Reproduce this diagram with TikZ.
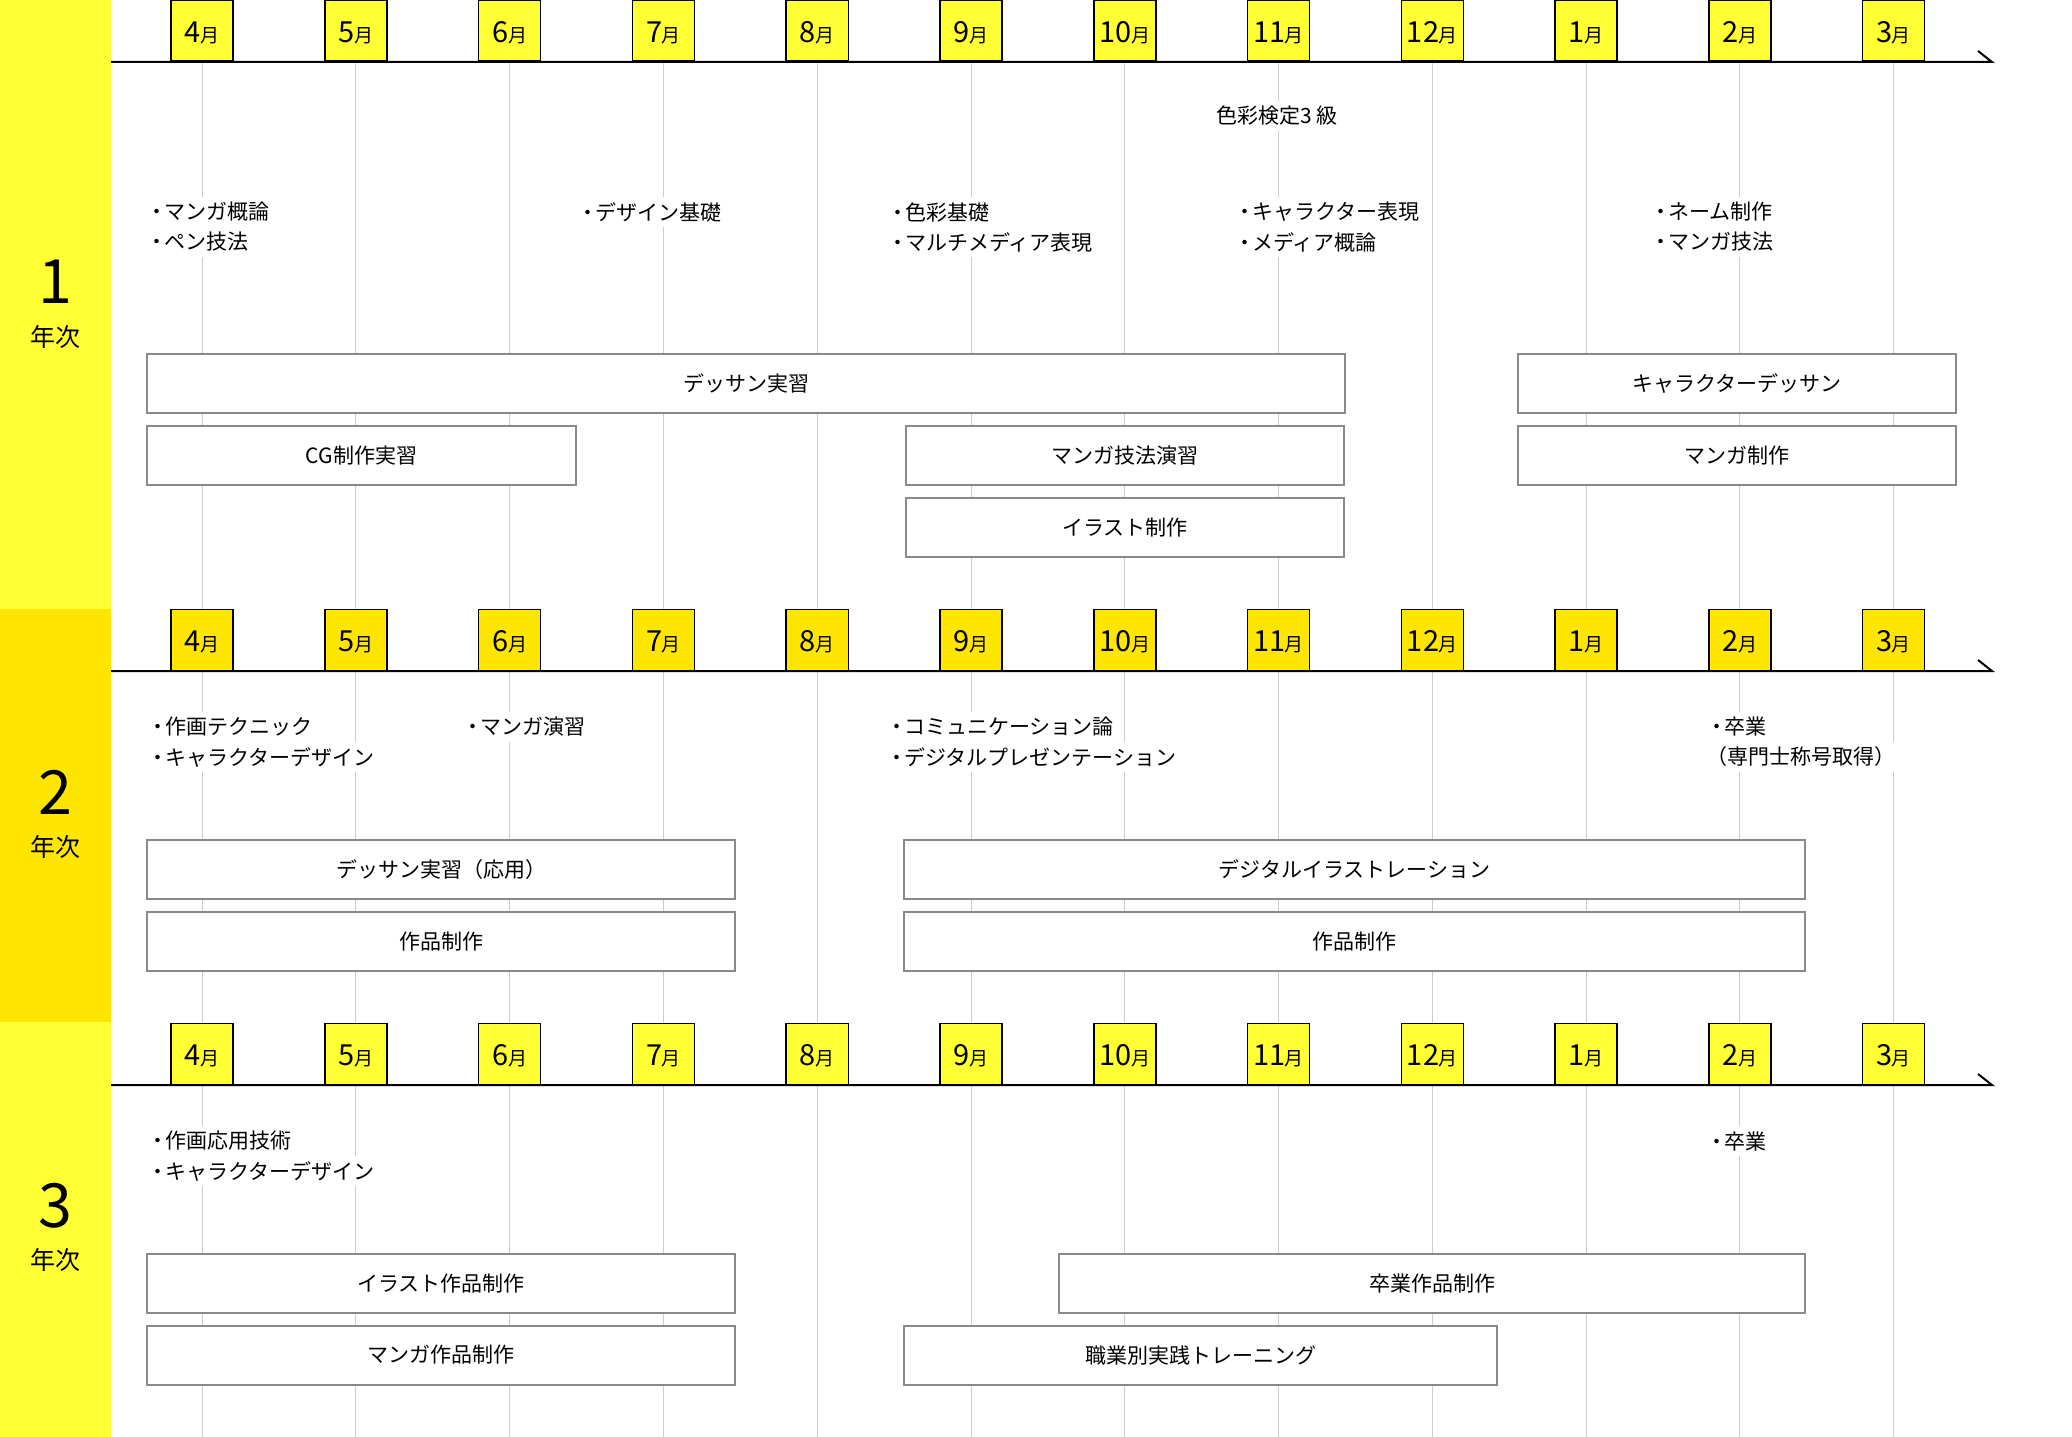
\documentclass[tikz,border=0pt]{standalone}
\usepackage{fontspec}
\setmainfont{Noto Sans CJK JP}
\definecolor{yelA}{HTML}{FFFF33}
\definecolor{yelB}{HTML}{FFE600}
\definecolor{boxgray}{HTML}{8A8A8A}
\definecolor{gridgray}{HTML}{CCCCCC}
\newcommand\mlab[1]{\raisebox{-12pt}[0pt][0pt]{{\fontsize{29}{29}\selectfont #1}\kern-0.5pt{\fontsize{19}{19}\selectfont 月}}}
\newcommand\bul{\kern-6pt・\kern-3.5pt}
\tikzset{
  course/.style={draw=boxgray, line width=2pt, fill=white, minimum height=59pt, inner sep=0pt, font=\fontsize{21}{25}\selectfont},
  month/.style={draw=black, line width=1.5pt, minimum width=62pt, minimum height=61pt, inner sep=0pt, anchor=south},
  note/.style={fill=white, inner xsep=2pt, inner ysep=5pt, anchor=west, font=\fontsize{21}{25}\selectfont},
  axisline/.style={line width=2pt, black, line join=miter},
  gridline/.style={gridgray, line width=1pt},
  yearnum/.style={inner sep=0pt, font=\fontsize{61}{61}\selectfont},
  yeartxt/.style={inner sep=0pt, font=\fontsize{25}{25}\selectfont},
}
\begin{document}
\begin{tikzpicture}[x=1pt,y=-1pt]
\useasboundingbox (0,0) rectangle (2072,1437);
\fill[white] (0,0) rectangle (2072,1437);
% year bands
\fill[yelA] (0,0) rectangle (111,609);
\fill[yelB] (0,609) rectangle (111,1022);
\fill[yelA] (0,1022) rectangle (111,1437);
% month grid lines
\foreach \i in {0,...,11}{
  \pgfmathsetmacro\cx{202.2+153.76*\i}
  \draw[gridline] (\cx,62) -- (\cx,1437);
}
% axes and month boxes
\foreach \yr/\ay/\col in {1/62/yelA, 2/671/yelB, 3/1085/yelA}{
  \coordinate (ax\yr s) at (111,\ay);
  \coordinate (ax\yr e) at (1992,\ay);
  \draw[axisline] (ax\yr s) -- (ax\yr e) -- ++(-14,-11);
  \foreach \m [count=\i from 0] in {4,5,6,7,8,9,10,11,12,1,2,3}{
    \pgfmathsetmacro\cx{202.2+153.76*\i}
    \node[month, fill=\col] (m\yr-\m) at (\cx,\ay) {\mlab{\m}};
  }
}
% year labels
\node[yearnum] (y1n) at (55,282) {1};
\node[yeartxt] (y1t) at (55,337) {年次};
\node[yearnum] (y2n) at (55,792) {2};
\node[yeartxt] (y2t) at (55,847) {年次};
\node[yearnum] (y3n) at (55,1206) {3};
\node[yeartxt] (y3t) at (55,1260) {年次};

% ---------- Year 1 ----------
\node[note, anchor=center] (k1) at (1277,116) {色彩検定3 級};
\node[note] (a1) at (150.5,212) {\bul マンガ概論};
\node[note] (a2) at (150.5,242) {\bul ペン技法};
\node[note] (b1) at (581.5,212) {\bul デザイン基礎};
\node[note] (c1) at (891.5,212) {\bul 色彩基礎};
\node[note] (c2) at (891.5,242) {\bul マルチメディア表現};
\node[note] (d1) at (1238.5,212) {\bul キャラクター表現};
\node[note] (d2) at (1238.5,242) {\bul メディア概論};
\node[note] (e1) at (1654.5,212) {\bul ネーム制作};
\node[note] (e2) at (1654.5,242) {\bul マンガ技法};

\node[course, minimum width=1198pt] (dessin) at (746,383.5) {デッサン実習};
\node[course, minimum width=438pt] (chardessin) at (1737,383.5) {キャラクターデッサン};
\node[course, minimum width=429pt] (cg) at (361.5,455.5) {CG制作実習};
\node[course, minimum width=438pt] (mangagiho) at (1125,455.5) {マンガ技法演習};
\node[course, minimum width=438pt] (mangaseisaku) at (1737,455.5) {マンガ制作};
\node[course, minimum width=438pt] (illust) at (1125,527.5) {イラスト制作};

% ---------- Year 2 ----------
\node[note] (f1) at (151.5,727) {\bul 作画テクニック};
\node[note] (f2) at (151.5,757) {\bul キャラクターデザイン};
\node[note] (g1) at (466.5,727) {\bul マンガ演習};
\node[note] (h1) at (890.5,727) {\bul コミュニケーション論};
\node[note] (h2) at (890.5,757) {\bul デジタルプレゼンテーション};
\node[note] (i1) at (1710.5,727) {\bul 卒業};
\node[note] (i2) at (1704,757) {（専門士称号取得）};

\node[course, minimum width=588pt] (dessin2) at (441,869.5) {デッサン実習（応用）};
\node[course, minimum width=588pt] (sakuhin2a) at (441,941.5) {作品制作};
\node[course, minimum width=901pt] (digital) at (1354.5,869.5) {デジタルイラストレーション};
\node[course, minimum width=901pt] (sakuhin2b) at (1354.5,941.5) {作品制作};

% ---------- Year 3 ----------
\node[note] (j1) at (151.5,1141) {\bul 作画応用技術};
\node[note] (j2) at (151.5,1171) {\bul キャラクターデザイン};
\node[note] (l1) at (1710.5,1141) {\bul 卒業};

\node[course, minimum width=588pt] (illustsaku) at (441,1283.5) {イラスト作品制作};
\node[course, minimum width=588pt] (mangasaku) at (441,1355) {マンガ作品制作};
\node[course, minimum width=746pt] (sotsusaku) at (1432,1283.5) {卒業作品制作};
\node[course, minimum width=593pt] (shokugyo) at (1200.5,1355) {職業別実践トレーニング};
\end{tikzpicture}
\end{document}
